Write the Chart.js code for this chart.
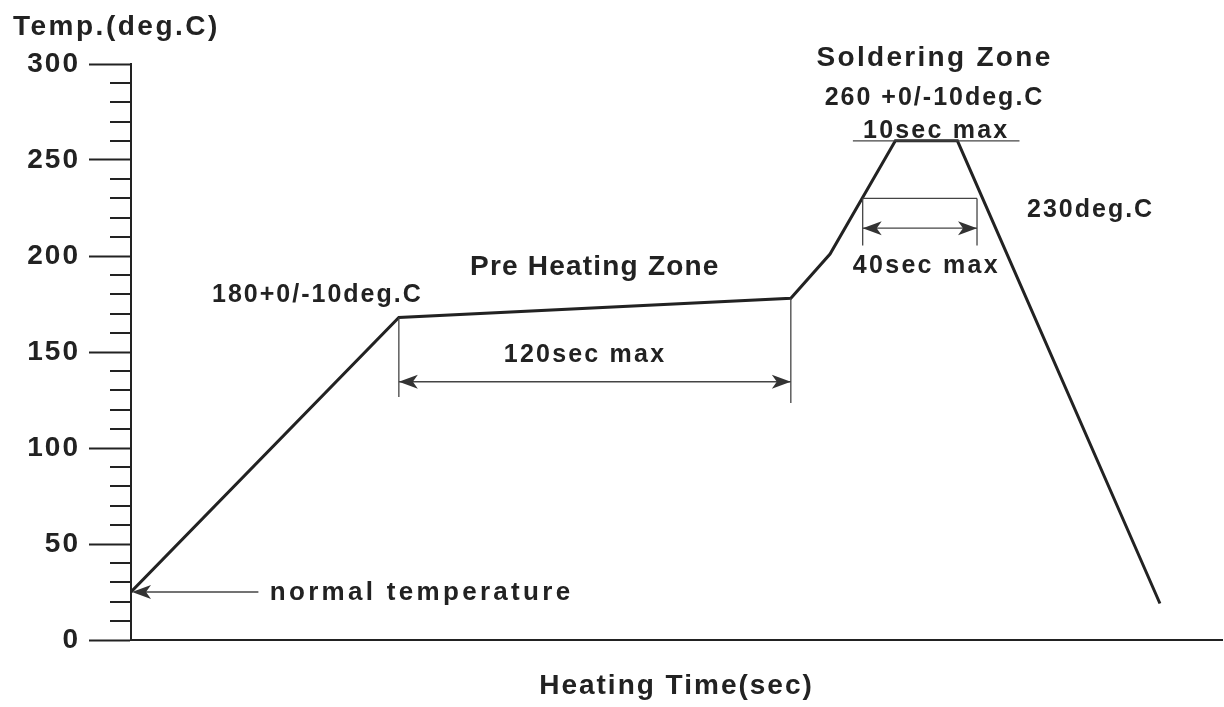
<!DOCTYPE html>
<html>
<head>
<meta charset="utf-8">
<title>Reflow profile</title>
<script src="https://cdn.jsdelivr.net/npm/chart.js@4.4.1/dist/chart.umd.min.js"></script>
<style>
  html, body { margin: 0; padding: 0; background: #fff; }
  #wrap { width: 1224px; height: 707px; position: relative; }
</style>
</head>
<body>
<div id="wrap"><canvas id="profile"></canvas></div>
<script>
// Perfil de temperatura: tiempo (seg) y temperatura (deg.C)
const times = [0, 82, 202, 214, 234, 253, 315];
const temps = [25, 168, 178, 201, 260, 260, 19];
const yTicks = [0, 50, 100, 150, 200, 250, 300];
const minorTicks = [10, 20, 30, 40, 60, 70, 80, 90, 110, 120, 130, 140,
                    160, 170, 180, 190, 210, 220, 230, 240, 260, 270, 280, 290];

const ink = '#222';
const fontFamily = '"Liberation Sans", Arial, sans-serif';

function arrowHead(ctx, x, y, dir) {
    // dir = -1 apunta a la izquierda, +1 a la derecha
    ctx.beginPath();
    ctx.moveTo(x, y);
    ctx.lineTo(x - dir * 19, y - 7);
    ctx.lineTo(x - dir * 14, y);
    ctx.lineTo(x - dir * 19, y + 7);
    ctx.closePath();
    ctx.fill();
}

// Textos, cotas y ticks menores
const annotations = {
    id: 'annotations',
    beforeDraw(chart) {
        chart.ctx.letterSpacing = '2px';
    },
    afterDraw(chart) {
        const { ctx, scales: { x, y } } = chart;
        const px = v => x.getPixelForValue(v);
        const py = v => y.getPixelForValue(v);
        ctx.save();

        // ticks menores del eje Y
        ctx.strokeStyle = ink;
        ctx.lineWidth = 2;
        minorTicks.forEach(v => {
            const yy = Math.round(py(v));
            ctx.beginPath();
            ctx.moveTo(y.right - 21, yy);
            ctx.lineTo(y.right, yy);
            ctx.stroke();
        });

        // lineas de cota
        ctx.strokeStyle = '#444';
        ctx.fillStyle = '#333';
        ctx.lineWidth = 1.3;
        const seg = (x1, y1, x2, y2) => {
            ctx.beginPath();
            ctx.moveTo(px(x1), py(y1));
            ctx.lineTo(px(x2), py(y2));
            ctx.stroke();
        };
        const dim = (x1, x2, t) => {
            seg(x1, t, x2, t);
            arrowHead(ctx, px(x1), py(t), -1);
            arrowHead(ctx, px(x2), py(t), 1);
        };

        seg(221, 260, 272, 260);          // 10sec max
        seg(224, 230, 259, 230);          // 230deg.C
        seg(224, 230, 224, 205.5);
        seg(259, 230, 259, 205.5);
        dim(224, 259, 214.5);             // 40sec max
        seg(82, 168, 82, 126.5);
        seg(202, 178, 202, 123.5);
        dim(82, 202, 134.5);              // 120sec max
        seg(39, 25, 3, 25);               // normal temperature
        arrowHead(ctx, px(0) + 1, py(25), -1);

        // textos
        ctx.fillStyle = ink;
        ctx.textBaseline = 'alphabetic';
        const notes = [
            ['Soldering Zone', 246, 299, 28, 'center', 2.3],
            ['260 +0/-10deg.C', 246, 278.6, 25, 'center', 2],
            ['10sec max', 246.5, 261.5, 25, 'center', 2.2],
            ['230deg.C', 274.3, 220.3, 25, 'left', 2],
            ['40sec max', 243.5, 191, 25, 'center', 2.3],
            ['Pre Heating Zone', 142, 190, 28, 'center', 1.2],
            ['180+0/-10deg.C', 24.8, 176, 25, 'left', 2],
            ['120sec max', 139, 145, 25, 'center', 2.2],
            ['normal temperature', 42.5, 21, 26, 'left', 3.3]
        ];
        notes.forEach(([text, tx, ty, size, align, sp]) => {
            ctx.font = `bold ${size}px ${fontFamily}`;
            ctx.letterSpacing = sp + 'px';
            ctx.textAlign = align;
            ctx.fillText(text, px(tx), py(ty));
        });

        // titulo del eje Y (horizontal, arriba a la izquierda)
        ctx.font = `bold 28px ${fontFamily}`;
        ctx.letterSpacing = '2.5px';
        ctx.textAlign = 'left';
        ctx.fillText('Temp.(deg.C)', 13, chart.chartArea.top - 29);

        ctx.restore();
    }
};

const ctxProfile = document.getElementById('profile').getContext('2d');
new Chart(ctxProfile, {
    type: 'line',
    data: {
        datasets: [{
            label: 'Temp',
            data: times.map((t, i) => ({ x: t, y: temps[i] })),
            borderColor: ink,
            borderWidth: 3,
            pointRadius: 0,
            tension: 0,
            fill: false
        }]
    },
    options: {
        responsive: true,
        maintainAspectRatio: false,
        animation: false,
        layout: { padding: { top: 64, right: 2, left: 0, bottom: 0 } },
        plugins: {
            legend: { display: false },
            tooltip: { enabled: false }
        },
        scales: {
            x: {
                type: 'linear',
                min: 0,
                max: 334,
                ticks: { display: false },
                grid: { display: false },
                border: { display: true, color: ink, width: 2 },
                title: {
                    display: true,
                    text: 'Heating Time(sec)',
                    color: ink,
                    font: { family: fontFamily, size: 28, weight: 'bold' },
                    padding: { top: 0, bottom: 4 }
                },
                afterFit: s => { s.height = 67; }
            },
            y: {
                min: 0,
                max: 300,
                afterBuildTicks: s => { s.ticks = yTicks.map(v => ({ value: v })); },
                ticks: {
                    color: ink,
                    padding: 9,
                    font: { family: fontFamily, size: 28, weight: 'bold' }
                },
                grid: {
                    drawOnChartArea: false,
                    tickLength: 42,
                    tickWidth: 2,
                    tickColor: ink
                },
                border: { display: true, color: ink, width: 2 },
                afterFit: s => { s.width = 131; }
            }
        }
    },
    plugins: [annotations]
});
</script>
</body>
</html>
